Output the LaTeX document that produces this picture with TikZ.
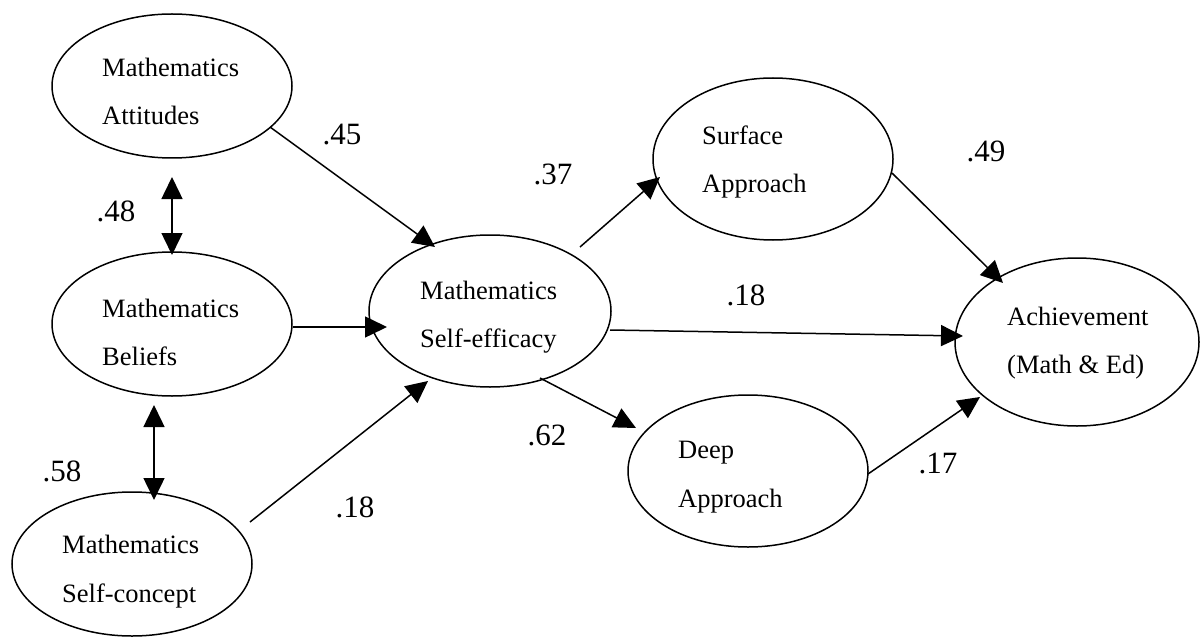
\documentclass[tikz,border=0pt]{standalone}
\usepackage{fontspec}
\setmainfont{Liberation Serif}
\usetikzlibrary{arrows.meta,calc,shapes.geometric}
\begin{document}
\begin{tikzpicture}[x=1pt,y=-1pt,
  ell/.style={draw, ellipse, line width=1.5pt, inner sep=0pt},
  txt/.style={anchor=base west, inner sep=0pt, font=\fontsize{26.5}{30}\selectfont},
  lbl/.style={anchor=base, inner sep=0pt, font=\fontsize{31}{36}\selectfont},
  conn/.style={line width=1.5pt, -{Triangle[length=22pt,width=21pt]}},
  dconn/.style={line width=1.5pt, {Triangle[length=22pt,width=21pt]}-{Triangle[length=22pt,width=21pt]}}]
\useasboundingbox (0,0) rectangle (1201,639);
% ellipses
\node[ell, minimum width=240pt, minimum height=144pt] (att) at (172,86) {};
\node[ell, minimum width=240pt, minimum height=144pt] (bel) at (172,324) {};
\node[ell, minimum width=240pt, minimum height=144pt] (sc) at (132,564) {};
\node[ell, minimum width=242pt, minimum height=152pt] (se) at (490,311) {};
\node[ell, minimum width=240pt, minimum height=162pt] (sur) at (773,159) {};
\node[ell, minimum width=240pt, minimum height=152pt] (deep) at (748,471) {};
\node[ell, minimum width=244pt, minimum height=168pt] (ach) at (1077,342) {};
% texts
\node[txt] (attA) at (102,77) {Mathematics};
\node[txt] (attB) at (102,125) {Attitudes};
\node[txt] (belA) at (102,317) {Mathematics};
\node[txt] (belB) at (102,365) {Beliefs};
\node[txt] (scA) at (62,553) {Mathematics};
\node[txt] (scB) at (62,602) {Self-concept};
\node[txt] (seA) at (420,299) {Mathematics};
\node[txt] (seB) at (420,347) {Self-efficacy};
\node[txt] (surA) at (702,145) {Surface};
\node[txt] (surB) at (702,193) {Approach};
\node[txt] (deepA) at (678,458) {Deep};
\node[txt] (deepB) at (678,507) {Approach};
\node[txt] (achA) at (1007,325) {Achievement};
\node[txt] (achB) at (1007,373) {(Math \& Ed)};
% connectors
\draw[conn] ($(att)+(98,41)$) -- ($(se)+(-55,-64)$);
\draw[conn] ($(bel)+(121,3)$) -- ($(se)+(-103,16)$);
\draw[conn] ($(sc)+(118,-42)$) -- ($(se)+(-62,70)$);
\draw[conn] ($(se)+(90,-64)$) -- ($(sur)+(-113,18)$);
\draw[conn] ($(se)+(120,19)$) -- ($(ach)+(-114,-6)$);
\draw[conn] ($(se)+(50,67)$) -- ($(deep)+(-112,-43)$);
\draw[conn] ($(sur)+(119,14)$) -- ($(ach)+(-74,-59)$);
\draw[conn] ($(deep)+(120,3)$) -- ($(ach)+(-97,55)$);
\draw[dconn] ($(att)+(0,91)$) -- ($(bel)+(0,-69)$);
\draw[dconn] ($(bel)+(-18,81)$) -- ($(sc)+(22,-64)$);
% labels
\node[lbl] (l45) at (342,145) {.45};
\node[lbl] (l48) at (116,221) {.48};
\node[lbl] (l58) at (62,481) {.58};
\node[lbl] (l18a) at (355,517) {.18};
\node[lbl] (l37) at (553,185) {.37};
\node[lbl] (l18b) at (746,305) {.18};
\node[lbl] (l62) at (547,445) {.62};
\node[lbl] (l49) at (986,162) {.49};
\node[lbl] (l17) at (938,473) {.17};
\end{tikzpicture}
\end{document}
